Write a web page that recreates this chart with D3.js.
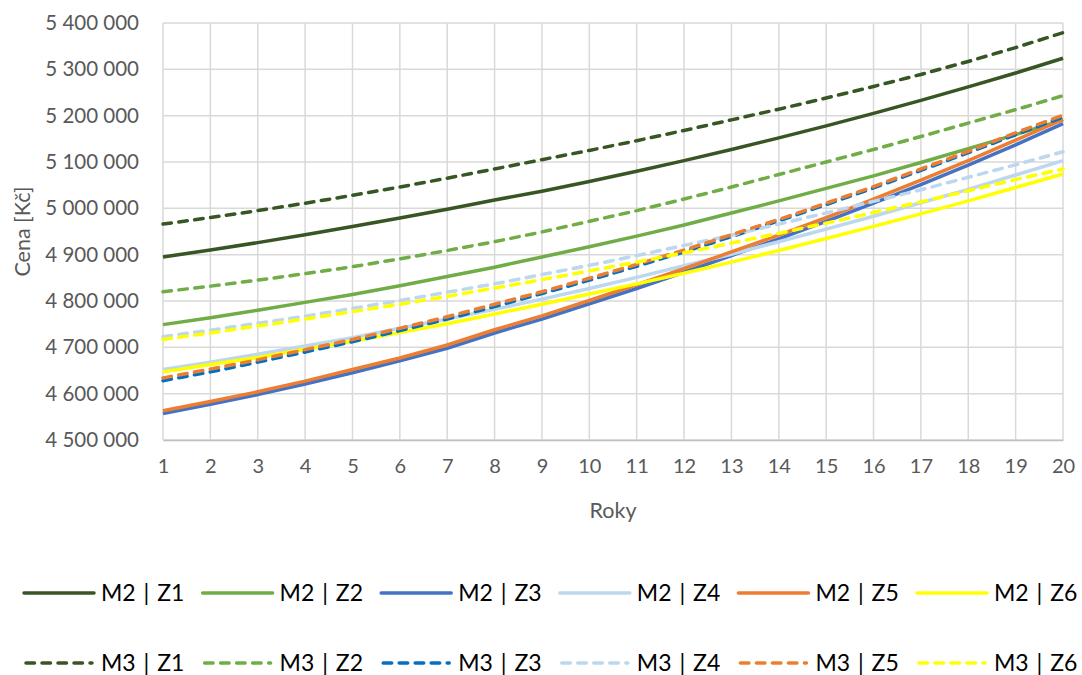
<!DOCTYPE html>
<html><head><meta charset="utf-8">
<script src="https://cdn.jsdelivr.net/npm/d3@7"></script>
<style>
html,body{margin:0;padding:0;background:#fff;}
svg{display:block;font-family:Lato, "Open Sans", sans-serif;}
</style></head>
<body>
<svg id="chart" width="1082" height="675"></svg>
<script>
// ---- data ----
const years = [1,2,3,4,5,6,7,8,9,10,11,12,13,14,15,16,17,18,19,20];
const yTicks = [4500000,4600000,4700000,4800000,4900000,5000000,5100000,5200000,5300000,5400000];
const seriesNames = ["M2 | Z1","M2 | Z2","M2 | Z3","M2 | Z4","M2 | Z5","M2 | Z6",
                     "M3 | Z1","M3 | Z2","M3 | Z3","M3 | Z4","M3 | Z5","M3 | Z6"];
const M2_Z1 = [4895e3,4910e3,4926e3,4943e3,4961e3,4979e3,4998e3,5018e3,5037e3,5058e3,5080e3,5103e3,5127e3,5152e3,5178e3,5205e3,5233e3,5262e3,5292e3,5324e3];
const M2_Z2 = [4749e3,4764e3,4780e3,4797e3,4814e3,4833e3,4853e3,4873e3,4895e3,4917e3,4940e3,4964e3,4990e3,5016e3,5043e3,5070e3,5099e3,5129e3,5159e3,5191e3];
const M2_Z3 = [4557e3,4577e3,4598e3,4621e3,4645e3,4671e3,4698e3,4731e3,4761e3,4794e3,4827e3,4862e3,4898e3,4934e3,4972e3,5011e3,5051e3,5093e3,5137e3,5183e3];
const M2_Z4 = [4652e3,4668e3,4685e3,4703e3,4721e3,4741e3,4761e3,4782e3,4804e3,4827e3,4851e3,4876e3,4901e3,4928e3,4955e3,4983e3,5012e3,5041e3,5072e3,5103e3];
const M2_Z5 = [4563e3,4583e3,4604e3,4627e3,4652e3,4677e3,4705e3,4738e3,4768e3,4801e3,4835e3,4870e3,4906e3,4942e3,4980e3,5020e3,5061e3,5103e3,5147e3,5192e3];
const M2_Z6 = [4647e3,4663e3,4678e3,4696e3,4713e3,4732e3,4751e3,4772e3,4793e3,4815e3,4837e3,4860e3,4884e3,4909e3,4935e3,4961e3,4988e3,5016e3,5045e3,5074e3];
const M3_Z1 = [4966e3,4980e3,4995e3,5011e3,5028e3,5046e3,5065e3,5085e3,5105e3,5125e3,5146e3,5168e3,5191e3,5214e3,5238e3,5263e3,5289e3,5317e3,5347e3,5379e3];
const M3_Z2 = [4820e3,4832e3,4845e3,4859e3,4874e3,4891e3,4909e3,4928e3,4949e3,4972e3,4995e3,5020e3,5046e3,5073e3,5100e3,5127e3,5155e3,5184e3,5213e3,5243e3];
const M3_Z3 = [4628e3,4647e3,4668e3,4690e3,4712e3,4736e3,4761e3,4788e3,4816e3,4845e3,4875e3,4906e3,4939e3,4973e3,5008e3,5044e3,5082e3,5120e3,5159e3,5197e3];
const M3_Z4 = [4723e3,4737e3,4752e3,4767e3,4784e3,4801e3,4819e3,4837e3,4857e3,4877e3,4898e3,4920e3,4942e3,4966e3,4990e3,5015e3,5040e3,5067e3,5094e3,5122e3];
const M3_Z5 = [4634e3,4653e3,4673e3,4695e3,4717e3,4741e3,4766e3,4793e3,4820e3,4849e3,4879e3,4910e3,4943e3,4976e3,5011e3,5047e3,5085e3,5123e3,5163e3,5201e3];
const M3_Z6 = [4717e3,4731e3,4746e3,4761e3,4777e3,4793e3,4810e3,4828e3,4846e3,4865e3,4884e3,4904e3,4925e3,4946e3,4968e3,4991e3,5014e3,5038e3,5062e3,5085e3];

const seriesValues = [M2_Z1,M2_Z2,M2_Z3,M2_Z4,M2_Z5,M2_Z6,M3_Z1,M3_Z2,M3_Z3,M3_Z4,M3_Z5,M3_Z6];
const colors = ["#375623","#70AD47","#4472C4","#BDD7EE","#ED7D31","#FFFF00",
                "#375623","#70AD47","#0070C0","#BDD7EE","#ED7D31","#FFFF00"];
const dashed = [false,false,false,false,false,false,true,true,true,true,true,true];

// ---- layout ----
const svg = d3.select("#chart");
const pLeft = 163, pRight = 1063, pTop = 23, pBottom = 440;
const x = d3.scalePoint().domain(years).range([pLeft, pRight]);
const y = d3.scaleLinear().domain([4500000, 5400000]).range([pBottom, pTop]);
const locale = d3.formatLocale({decimal: ",", thousands: "\u00a0", grouping: [3], currency: ["", " Kč"]});
const fmt = locale.format(",d");
const textColor = "#595959";

// gridlines
const grid = svg.append("g");
grid.selectAll("line.h").data(yTicks).join("line")
  .attr("x1", pLeft).attr("x2", pRight)
  .attr("y1", d => y(d)).attr("y2", d => y(d))
  .attr("stroke", "#d9d9d9").attr("stroke-width", 1.5);
grid.selectAll("line.v").data(years).join("line")
  .attr("x1", d => x(d)).attr("x2", d => x(d))
  .attr("y1", pTop).attr("y2", pBottom)
  .attr("stroke", "#d9d9d9").attr("stroke-width", 1.5);

// axes
const yAxis = svg.append("g").attr("transform", `translate(${pLeft - 24},0)`)
  .call(d3.axisLeft(y).tickValues(yTicks).tickFormat(fmt).tickSize(0).tickPadding(0));
yAxis.select(".domain").remove();
yAxis.selectAll("text").attr("fill", textColor).style("font-size", "20.5px")
  .style("font-family", "Lato, 'Open Sans', sans-serif");

const xAxis = svg.append("g").attr("transform", `translate(0,${pBottom})`)
  .call(d3.axisBottom(x).tickSize(0).tickPadding(19));
xAxis.select(".domain").attr("stroke", "#bfbfbf").attr("stroke-width", 1.5);
xAxis.selectAll("text").attr("fill", textColor).style("font-size", "20px")
  .style("font-family", "Lato, 'Open Sans', sans-serif");

// axis titles
svg.append("text").attr("x", (pLeft + pRight) / 2).attr("y", 518)
  .attr("text-anchor", "middle").attr("fill", textColor)
  .style("font-size", "21.5px").text("Roky");
svg.append("text").attr("transform", `translate(30,${(pTop + pBottom) / 2}) rotate(-90)`)
  .attr("text-anchor", "middle").attr("fill", textColor)
  .style("font-size", "21.5px").text("Cena [Kč]");

// lines
const line = d3.line().x((d, i) => x(years[i])).y(d => y(d));
const lines = svg.append("g");
seriesValues.forEach((vals, i) => {
  lines.append("path").datum(vals)
    .attr("d", line)
    .attr("fill", "none")
    .attr("stroke", colors[i])
    .attr("stroke-width", 3.5)
    .attr("stroke-linejoin", "round")
    .attr("stroke-linecap", dashed[i] ? "round" : "butt")
    .attr("stroke-dasharray", dashed[i] ? "8.5,7.5" : null);
});

// legend
const legend = svg.append("g");
seriesNames.forEach((name, i) => {
  const col = i % 6, row = Math.floor(i / 6);
  const sx = 24 + col * 178.6;
  const ly = row === 0 ? 593 : 663;
  legend.append("line")
    .attr("x1", sx + (dashed[i] ? 2 : 0)).attr("x2", sx + 70 - (dashed[i] ? 2 : 0))
    .attr("y1", ly).attr("y2", ly)
    .attr("stroke", colors[i]).attr("stroke-width", 3.5)
    .attr("stroke-linecap", "round")
    .attr("stroke-dasharray", dashed[i] ? "8.5,7.5" : null);
  legend.append("text")
    .attr("x", sx + 77).attr("y", ly).attr("dy", "0.36em")
    .attr("fill", "#000").style("font-size", "23px").style("word-spacing", "2px")
    .text(name);
});
</script>
</body></html>
